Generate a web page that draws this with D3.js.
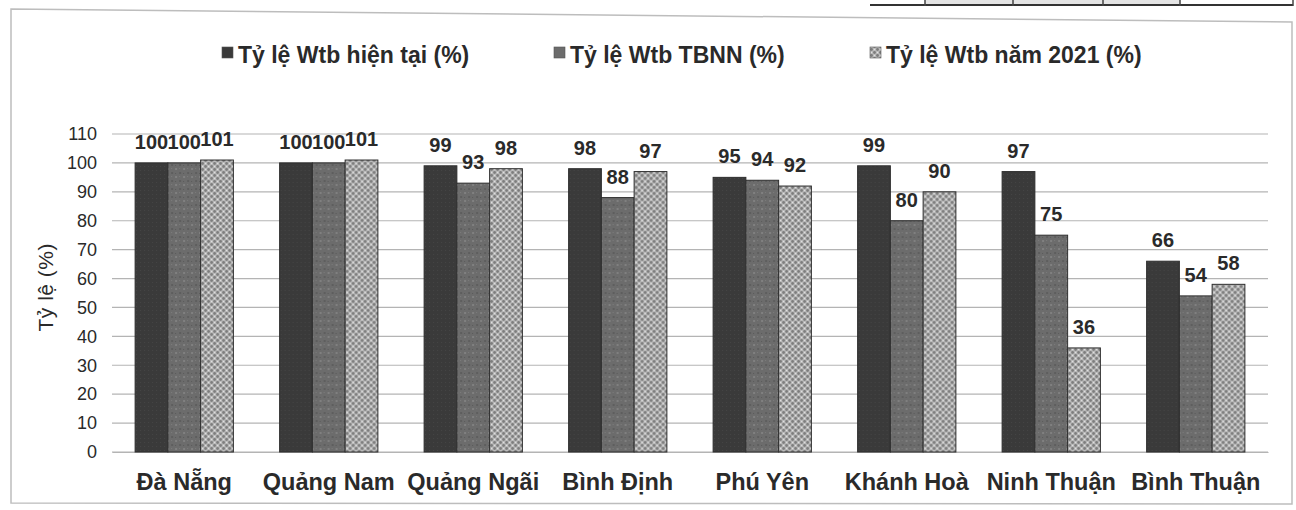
<!DOCTYPE html>
<html>
<head>
<meta charset="utf-8">
<script src="https://cdn.jsdelivr.net/npm/d3@7/dist/d3.min.js"></script>
<style>
  html, body { margin: 0; padding: 0; background: #fff; }
  svg { display: block; }
  text { font-family: "Liberation Sans", Arial, sans-serif; fill: #2a2a2a; }
</style>
</head>
<body>
<svg id="chart" width="1296" height="510"></svg>
<script>
const categories = ["Đà Nẵng", "Quảng Nam", "Quảng Ngãi", "Bình Định", "Phú Yên", "Khánh Hoà", "Ninh Thuận", "Bình Thuận"];
const seriesNames = ["Tỷ lệ Wtb hiện tại (%)", "Tỷ lệ Wtb TBNN (%)", "Tỷ lệ Wtb năm 2021 (%)"];
const currentValues = [100, 100, 99, 98, 95, 99, 97, 66];
const averageValues = [100, 100, 93, 88, 94, 80, 75, 54];
const year2021Values = [101, 101, 98, 97, 92, 90, 36, 58];
const yTicks = [0, 10, 20, 30, 40, 50, 60, 70, 80, 90, 100, 110];
const yTitle = "Tỷ lệ (%)";

const series = [currentValues, averageValues, year2021Values];
const svg = d3.select("#chart");

// scan artifact: bottom edge of a table at the top
const topArt = svg.append("g");
[{a:925,b:1013},{a:1013,b:1103},{a:1103,b:1180}].forEach(c => {
  topArt.append("rect").attr("x", c.a).attr("y", 0).attr("width", c.b - c.a).attr("height", 4).attr("fill", "#e4e4e4");
});
topArt.append("line").attr("x1", 870).attr("x2", 1293).attr("y1", 5).attr("y2", 5)
  .attr("stroke", "#333").attr("stroke-width", 2);
[925, 1013, 1103, 1180, 1293].forEach(x => {
  topArt.append("line").attr("x1", x).attr("x2", x).attr("y1", 0).attr("y2", 6)
    .attr("stroke", "#444").attr("stroke-width", 1.5);
});

// chart frame (slightly skewed as in the scan)
svg.append("path")
  .attr("d", "M11,9 L1292,22 L1292,504 L11,503 Z")
  .attr("fill", "none").attr("stroke", "#bdbdbd").attr("stroke-width", 1.5);

// patterns
const defs = svg.append("defs");
const p1 = defs.append("pattern").attr("id", "pSolid").attr("patternUnits", "userSpaceOnUse")
  .attr("width", 4).attr("height", 4);
p1.append("rect").attr("width", 4).attr("height", 4).attr("fill", "#3a3a3a");
p1.append("rect").attr("x", 1).attr("y", 2).attr("width", 1).attr("height", 1).attr("fill", "#454545");

const p2 = defs.append("pattern").attr("id", "pMid").attr("patternUnits", "userSpaceOnUse")
  .attr("width", 8).attr("height", 8);
p2.append("rect").attr("width", 8).attr("height", 8).attr("fill", "#6c6c6c");
p2.append("rect").attr("x", 0).attr("y", 0).attr("width", 2).attr("height", 2).attr("fill", "#808080");
p2.append("rect").attr("x", 4).attr("y", 4).attr("width", 2).attr("height", 2).attr("fill", "#5e5e5e");
p2.append("rect").attr("x", 4).attr("y", 0).attr("width", 1).attr("height", 1).attr("fill", "#7c7c7c");
p2.append("rect").attr("x", 0).attr("y", 5).attr("width", 1).attr("height", 1).attr("fill", "#5a5a5a");

const p3 = defs.append("pattern").attr("id", "pCheck").attr("patternUnits", "userSpaceOnUse")
  .attr("width", 6).attr("height", 6);
p3.append("rect").attr("width", 6).attr("height", 6).attr("fill", "#b9b9b9");
p3.append("circle").attr("cx", 1.5).attr("cy", 1.5).attr("r", 1.4).attr("fill", "#7c7c7c");
p3.append("circle").attr("cx", 4.5).attr("cy", 4.5).attr("r", 1.4).attr("fill", "#7c7c7c");
p3.append("circle").attr("cx", 4.5).attr("cy", 1.5).attr("r", 0.7).attr("fill", "#e2e2e2");
p3.append("circle").attr("cx", 1.5).attr("cy", 4.5).attr("r", 0.7).attr("fill", "#e2e2e2");

const fills = ["url(#pSolid)", "url(#pMid)", "url(#pCheck)"];
const legendFills = ["#3a3a3a", "#6c6c6c", "url(#pCheck)"];

// scales
const margin = { left: 112, right: 1268, top: 134, bottom: 452 };
const x0 = d3.scaleBand().domain(categories).range([margin.left, margin.right]).paddingInner(0.32).paddingOuter(0.16);
const x1 = d3.scaleBand().domain([0, 1, 2]).range([0, x0.bandwidth()]).padding(0);
const y = d3.scaleLinear().domain([0, 110]).range([margin.bottom, margin.top]);

// gridlines
svg.append("g").selectAll("line").data(yTicks).join("line")
  .attr("x1", margin.left).attr("x2", margin.right)
  .attr("y1", d => y(d)).attr("y2", d => y(d))
  .attr("stroke", "#b4b4b4").attr("stroke-width", 1.2);

// y axis
const yAxis = svg.append("g").attr("transform", `translate(${margin.left},0)`)
  .call(d3.axisLeft(y).tickValues(yTicks).tickSize(0).tickPadding(15));
yAxis.select(".domain").remove();
yAxis.selectAll("text").style("font-size", "18px").style("font-family", "Liberation Sans, Arial, sans-serif").attr("fill", "#333");

// y title
svg.append("text").attr("transform", `translate(53,${y(57)}) rotate(-90)`)
  .attr("text-anchor", "middle").style("font-size", "21px").style("letter-spacing", "0.5px")
  .attr("fill", "#333").text(yTitle);

// x axis
const xAxis = svg.append("g").attr("transform", `translate(0,${margin.bottom})`)
  .call(d3.axisBottom(x0).tickSize(0).tickPadding(21));
xAxis.select(".domain").attr("stroke", "#b4b4b4").attr("stroke-width", 1.2);
xAxis.selectAll("text").style("font-size", "23.5px").style("font-weight", "bold")
  .style("font-family", "Liberation Sans, Arial, sans-serif").attr("fill", "#2a2a2a");

// bars
const groups = svg.append("g").selectAll("g").data(categories).join("g")
  .attr("transform", d => `translate(${x0(d)},0)`);

groups.selectAll("rect").data((d, i) => series.map((s, k) => ({ k, v: s[i] }))).join("rect")
  .attr("x", d => x1(d.k)).attr("width", x1.bandwidth())
  .attr("y", d => y(d.v)).attr("height", d => y(0) - y(d.v))
  .attr("fill", d => fills[d.k]).attr("stroke", "#2e2e2e").attr("stroke-width", 1);

groups.selectAll("text.lbl").data((d, i) => series.map((s, k) => ({ k, v: s[i] }))).join("text")
  .attr("class", "lbl")
  .attr("x", d => x1(d.k) + x1.bandwidth() / 2)
  .attr("y", d => y(d.v) - 14)
  .attr("text-anchor", "middle")
  .style("font-size", "20px").style("font-weight", "bold").attr("fill", "#2a2a2a")
  .text(d => d.v);

// legend
const legendPos = [222, 554, 870];
const lg = svg.append("g");
seriesNames.forEach((n, i) => {
  lg.append("rect").attr("x", legendPos[i]).attr("y", 47).attr("width", 11).attr("height", 11)
    .attr("fill", legendFills[i]).attr("stroke", "#555").attr("stroke-width", 0.6);
  lg.append("text").attr("x", legendPos[i] + 16).attr("y", 63)
    .style("font-size", "23px").style("font-weight", "bold").attr("fill", "#2a2a2a").text(n);
});
</script>
</body>
</html>
